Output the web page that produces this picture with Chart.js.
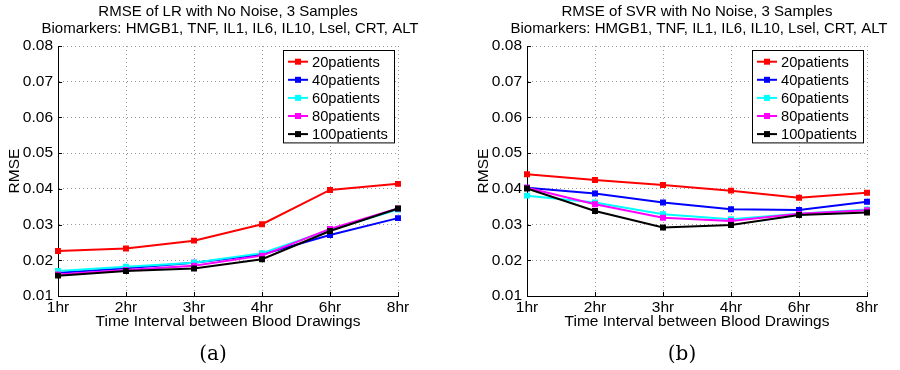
<!DOCTYPE html>
<html>
<head>
<meta charset="utf-8">
<script src="https://cdn.jsdelivr.net/npm/chart.js@4"></script>
<style>
  body { margin: 0; background: #fff; width: 900px; height: 370px; position: relative; overflow: hidden; }
  .box { position: absolute; top: 0; width: 424px; height: 370px; }
</style>
</head>
<body>
<div class="box" style="left:0px"><canvas id="lrChart" width="424" height="370"></canvas></div>
<div class="box" style="left:469px"><canvas id="svrChart" width="424" height="370"></canvas></div>
<script>
// categories and groups
const hours = ['1hr', '2hr', '3hr', '4hr', '6hr', '8hr'];
const groups = ['20patients', '40patients', '60patients', '80patients', '100patients'];
const yTicks = [0.01, 0.02, 0.03, 0.04, 0.05, 0.06, 0.07, 0.08];

// RMSE of LR
const lr20 = [0.0226, 0.0233, 0.0255, 0.0301, 0.0397, 0.0414];
const lr40 = [0.0165, 0.0178, 0.0193, 0.0216, 0.0271, 0.0318];
const lr60 = [0.0170, 0.0182, 0.0193, 0.0220, 0.0285, 0.0342];
const lr80 = [0.0160, 0.0173, 0.0185, 0.0213, 0.0288, 0.0345];
const lr100 = [0.0157, 0.0170, 0.0177, 0.0203, 0.0282, 0.0345];

// RMSE of SVR
const svr20 = [0.0441, 0.0425, 0.0411, 0.0395, 0.0375, 0.0389];
const svr40 = [0.0403, 0.0387, 0.0362, 0.0343, 0.0341, 0.0364];
const svr60 = [0.0381, 0.0362, 0.0329, 0.0315, 0.0330, 0.0342];
const svr80 = [0.0403, 0.0357, 0.0319, 0.0310, 0.0330, 0.0340];
const svr100 = [0.0401, 0.0338, 0.0292, 0.0299, 0.0327, 0.0334];

const colors = ['#ff0000', '#0000ff', '#00ffff', '#ff00ff', '#000000'];
const sans = "'Liberation Sans', Arial, sans-serif";

// titles, caption, legend box and inward ticks, the matlab way
const figPlugin = {
  id: 'fig',
  afterDraw(chart, args, opts) {
    const ctx = chart.ctx;
    const a = chart.chartArea;
    const cx = (a.left + a.right) / 2;
    ctx.save();
    ctx.fillStyle = '#000';
    ctx.textAlign = 'center';
    ctx.textBaseline = 'middle';
    ctx.font = '15px ' + sans;
    ctx.fillText(opts.title[0], cx, 12);
    ctx.fillText(opts.title[1], cx + 2, 29);
    ctx.font = "20px 'DejaVu Serif', serif";
    ctx.fillText(opts.caption, cx - 15, 355);

    // inward ticks
    ctx.strokeStyle = '#000';
    ctx.lineWidth = 1;
    const xs = chart.scales.x, ys = chart.scales.y;
    ctx.beginPath();
    xs.ticks.forEach((t, i) => {
      const px = Math.round(xs.getPixelForTick(i)) + 0.5;
      ctx.moveTo(px, a.bottom); ctx.lineTo(px, a.bottom - 4);
    });
    ys.ticks.forEach((t, i) => {
      const py = Math.round(ys.getPixelForTick(i)) + 0.5;
      ctx.moveTo(a.left, py); ctx.lineTo(a.left + 4, py);
    });
    ctx.stroke();

    // legend
    const w = 111, rowH = 18.1;
    const bx = a.right - 4 - w, by = a.top + 4;
    const n = chart.data.datasets.length;
    const h = 12 + rowH * (n - 1) + 8;
    ctx.fillStyle = '#fff';
    ctx.fillRect(bx, by, w, h);
    ctx.strokeStyle = '#000';
    ctx.strokeRect(bx + 0.5, by + 0.5, w, h);
    ctx.textAlign = 'left';
    ctx.font = '14.7px ' + sans;
    chart.data.datasets.forEach((ds, i) => {
      const y = by + 11.7 + i * rowH;
      ctx.strokeStyle = ds.borderColor;
      ctx.lineWidth = 2;
      ctx.beginPath(); ctx.moveTo(bx + 5, y); ctx.lineTo(bx + 25, y); ctx.stroke();
      ctx.fillStyle = ds.borderColor;
      ctx.fillRect(bx + 12, y - 3, 6, 6);
      ctx.fillStyle = '#000';
      ctx.fillText(ds.label, bx + 29, y + 1);
    });
    ctx.restore();
  }
};

function makeChart(id, series, title, caption) {
  const datasets = series.map((vals, i) => ({
    label: groups[i],
    data: vals,
    borderColor: colors[i],
    backgroundColor: colors[i],
    borderWidth: 2,
    pointStyle: 'rect',
    pointRadius: 4.2,
    pointBorderWidth: 0,
    tension: 0,
    order: series.length - i
  }));

  new Chart(document.getElementById(id), {
    type: 'line',
    data: { labels: hours, datasets: datasets },
    plugins: [figPlugin],
    options: {
      responsive: false,
      animation: false,
      layout: { padding: { top: 46, right: 26, bottom: 38, left: 0 } },
      plugins: {
        legend: { display: false },
        tooltip: { enabled: false },
        fig: { title: title, caption: caption }
      },
      scales: {
        x: {
          offset: false,
          afterFit: s => { s.height = 36; },
          grid: { color: '#9a9a9a', drawTicks: false },
          border: { color: '#000', width: 1, dash: [1, 3] },
          ticks: { color: '#000', padding: 2, font: { family: sans, size: 15.5 }, maxRotation: 0 },
          title: { display: true, text: 'Time Interval between Blood Drawings', color: '#000',
                   font: { family: sans, size: 15.5 }, padding: { top: 0, bottom: 1 } }
        },
        y: {
          min: yTicks[0],
          max: yTicks[yTicks.length - 1],
          afterFit: s => { s.width = 58; },
          afterBuildTicks: s => { s.ticks = yTicks.map(v => ({ value: v })); },
          grid: { color: '#9a9a9a', drawTicks: false },
          border: { color: '#000', width: 1, dash: [1, 3] },
          ticks: { color: '#000', padding: 5, font: { family: sans, size: 15.5 },
                   callback: v => v.toFixed(2) },
          title: { display: true, text: 'RMSE', color: '#000',
                   font: { family: sans, size: 15.5 }, padding: { top: 5, bottom: 0 } }
        }
      }
    }
  });
}

makeChart('lrChart', [lr20, lr40, lr60, lr80, lr100],
  ['RMSE of LR with No Noise, 3 Samples', 'Biomarkers: HMGB1, TNF, IL1, IL6, IL10, Lsel, CRT, ALT'], '(a)');
makeChart('svrChart', [svr20, svr40, svr60, svr80, svr100],
  ['RMSE of SVR with No Noise, 3 Samples', 'Biomarkers: HMGB1, TNF, IL1, IL6, IL10, Lsel, CRT, ALT'], '(b)');
</script>
</body>
</html>
